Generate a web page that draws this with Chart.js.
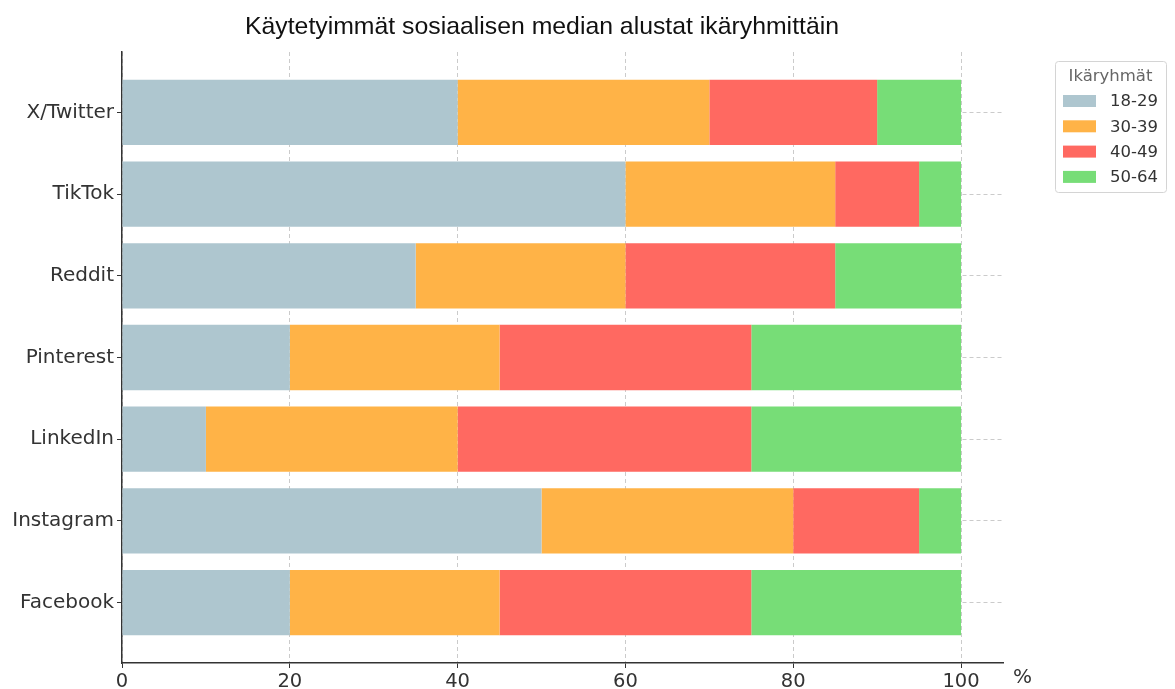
<!DOCTYPE html>
<html>
<head>
<meta charset="utf-8">
<script src="https://cdn.jsdelivr.net/npm/chart.js@4/dist/chart.umd.min.js"></script>
<style>
  html, body { margin: 0; padding: 0; background: #fff; }
  #wrap { width: 1175px; height: 689px; }
</style>
</head>
<body>
<div id="wrap"><canvas id="myChart" width="1175" height="689"></canvas></div>
<script>
// platforms listed bottom to top (Facebook at the bottom, like the picture)
const platforms = ["Facebook", "Instagram", "LinkedIn", "Pinterest", "Reddit", "TikTok", "X/Twitter"];
const ageGroups = ["18-29", "30-39", "40-49", "50-64"];
const age18_29 = [20, 50, 10, 20, 35, 60, 40];
const age30_39 = [25, 30, 30, 25, 25, 25, 30];
const age40_49 = [30, 15, 35, 30, 25, 10, 20];
const age50_64 = [25, 5, 25, 25, 15, 5, 10];
const xTicks = [0, 20, 40, 60, 80, 100];
const chartTitle = "Käytetyimmät sosiaalisen median alustat ikäryhmittäin";
const legendTitle = "Ikäryhmät";
const axisUnit = "%";

const colors = ["#AEC6CF", "#FFB347", "#FF6961", "#77DD77"];
const font = "'DejaVu Sans', sans-serif";

// build {x, y} points so bars sit on a linear y scale (gives matplotlib-like margins)
function toPoints(values) {
  let pts = [];
  for (let i = 0; i < values.length; i++) {
    pts.push({ x: values[i], y: i });
  }
  return pts;
}

const seriesValues = [age18_29, age30_39, age40_49, age50_64];
const datasets = ageGroups.map((g, i) => ({
  label: g,
  data: toPoints(seriesValues[i]),
  backgroundColor: colors[i],
  borderWidth: 0,
  stack: "all",
  categoryPercentage: 0.8,
  barPercentage: 1.0,
}));

// title, "%" unit and the boxed legend are drawn here
const extras = {
  id: "extras",
  afterDraw(chart) {
    const ctx = chart.ctx;
    const area = chart.chartArea;
    ctx.save();
    // title
    ctx.fillStyle = "#111";
    ctx.font = "24.8px 'Liberation Sans', Arial, sans-serif";
    ctx.textAlign = "center";
    ctx.textBaseline = "middle";
    ctx.fillText(chartTitle, 542, 27);

    // unit next to the x axis end
    ctx.fillStyle = "#333";
    ctx.font = "20px " + font;
    ctx.textAlign = "left";
    ctx.fillText(axisUnit, area.right + 10, 678);

    // legend box
    const bx = 1055, by = 61, bw = 111, bh = 131;
    ctx.strokeStyle = "#d4d4d4";
    ctx.lineWidth = 1;
    ctx.fillStyle = "rgba(255,255,255,0.8)";
    ctx.beginPath();
    ctx.roundRect(bx + 0.5, by + 0.5, bw, bh, 3);
    ctx.fill();
    ctx.stroke();

    ctx.fillStyle = "#666";
    ctx.font = "16.5px " + font;
    ctx.textAlign = "center";
    ctx.fillText(legendTitle, bx + bw / 2, 77);

    for (let i = 0; i < ageGroups.length; i++) {
      const cy = 101 + i * 25.3;
      ctx.fillStyle = colors[i];
      ctx.fillRect(1063, cy - 6, 33, 12);
      ctx.fillStyle = "#333";
      ctx.textAlign = "left";
      ctx.fillText(ageGroups[i], 1110, cy + 1);
    }
    ctx.restore();
  }
};

const ctx = document.getElementById("myChart").getContext("2d");
const myChart = new Chart(ctx, {
  type: "bar",
  data: { datasets: datasets },
  plugins: [extras],
  options: {
    indexAxis: "y",
    responsive: false,
    animation: false,
    layout: { padding: { top: 52, right: 172, left: 0, bottom: 0 } },
    plugins: {
      legend: { display: false },
      title: { display: false },
      tooltip: { enabled: false },
    },
    scales: {
      x: {
        type: "linear",
        stacked: true,
        min: 0,
        max: 105,
        afterBuildTicks(scale) {
          scale.ticks = xTicks.map((v) => ({ value: v }));
        },
        afterFit(scale) {
          scale.height = 26;
        },
        grid: {
          color: "rgba(190,190,190,0.8)",
          tickLength: 5,
          tickColor: "#333",
        },
        border: { display: true, color: "#333", width: 1.5, dash: [4, 3] },
        ticks: {
          color: "#333",
          padding: 2,
          font: { family: font, size: 19.5 },
        },
      },
      y: {
        type: "linear",
        offset: false,
        min: -0.74,
        max: 6.74,
        afterBuildTicks(scale) {
          scale.ticks = platforms.map((p, i) => ({ value: i }));
        },
        afterFit(scale) {
          scale.width = 122;
        },
        grid: {
          offset: false,
          color: "rgba(190,190,190,0.8)",
          tickLength: 5,
          tickColor: "#333",
        },
        border: { display: true, color: "#333", width: 1.5, dash: [4, 3] },
        ticks: {
          color: "#333",
          padding: 3,
          font: { family: font, size: 20 },
          callback: (v) => platforms[v],
        },
      },
    },
  },
});
</script>
</body>
</html>
